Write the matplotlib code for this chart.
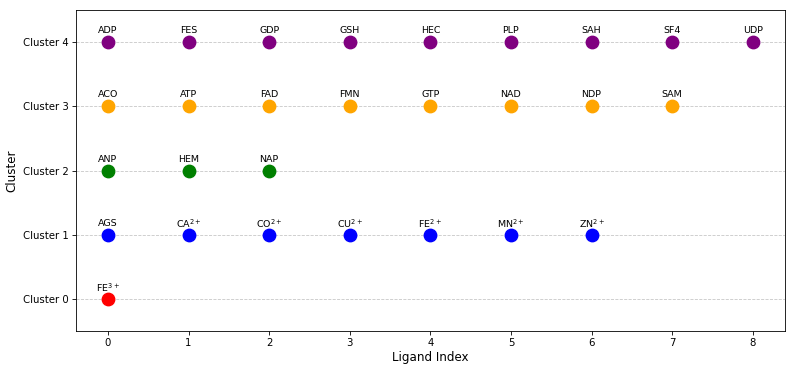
import matplotlib
matplotlib.use("Agg")
import matplotlib.pyplot as plt

# ligands per cluster
cluster0 = ["FE$^{3+}$"]
cluster1 = ["AGS", "CA$^{2+}$", "CO$^{2+}$", "CU$^{2+}$", "FE$^{2+}$", "MN$^{2+}$", "ZN$^{2+}$"]
cluster2 = ["ANP", "HEM", "NAP"]
cluster3 = ["ACO", "ATP", "FAD", "FMN", "GTP", "NAD", "NDP", "SAM"]
cluster4 = ["ADP", "FES", "GDP", "GSH", "HEC", "PLP", "SAH", "SF4", "UDP"]
clusters = [cluster0, cluster1, cluster2, cluster3, cluster4]
colors = ["red", "blue", "green", "orange", "purple"]
ytick_labels = ["Cluster 0", "Cluster 1", "Cluster 2", "Cluster 3", "Cluster 4"]

fig, ax = plt.subplots(figsize=(7.97, 3.72), dpi=100)

for c, names in enumerate(clusters):
    xs = list(range(len(names)))
    ys = [c] * len(names)
    ax.scatter(xs, ys, s=80, color=colors[c], zorder=2)
    for i, name in enumerate(names):
        ax.text(i, c + 0.18, name, ha="center", va="center", fontsize=6.8)

ax.set_yticks(range(len(clusters)))
ax.set_yticklabels(ytick_labels)
ax.set_xticks(range(9))
ax.set_xlim(-0.4, 8.4)
ax.set_ylim(-0.5, 4.5)
ax.grid(axis="y", linestyle="--", color="#c8c8c8", linewidth=0.6, zorder=3)
ax.set_xlabel("Ligand Index", fontsize=8.6, labelpad=2)
ax.set_ylabel("Cluster", fontsize=8.6, labelpad=3)
ax.tick_params(labelsize=7.3, length=2.6, width=0.6, pad=2.6)
for s in ax.spines.values():
    s.set_linewidth(0.6)

plt.subplots_adjust(left=0.095, right=0.985, top=0.973, bottom=0.11)
plt.savefig("out.png", dpi=100)
